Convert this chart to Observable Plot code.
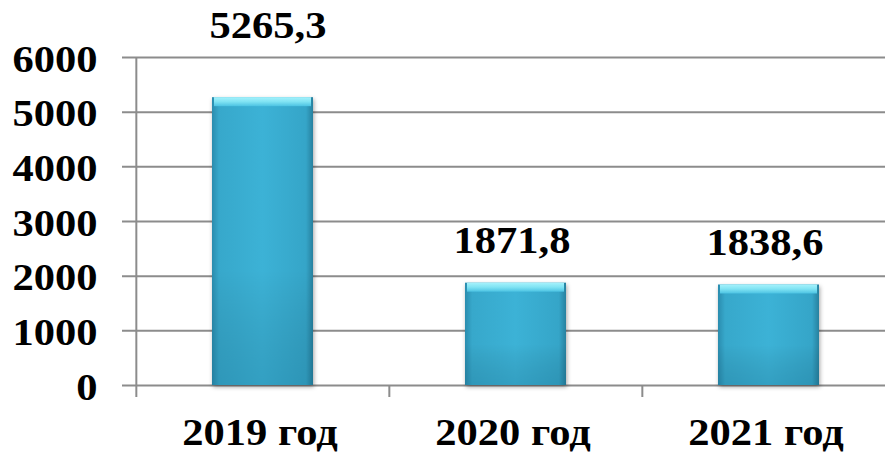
<!DOCTYPE html>
<html><head><meta charset="utf-8">
<script src="https://cdn.jsdelivr.net/npm/d3@7"></script>
<script src="https://cdn.jsdelivr.net/npm/@observablehq/plot@0.6"></script>
<style>body{margin:0;background:#fff} svg{display:block} svg text{font-family:'Liberation Serif','Times New Roman',serif !important;font-weight:bold}</style>
</head><body><div id="chart"></div>
<script>
const years = ["2019 год", "2020 год", "2021 год"];
const values = [5265.3, 1871.8, 1838.6];
const valueLabels = ["5265,3", "1871,8", "1838,6"];
const yTicks = [0, 1000, 2000, 3000, 4000, 5000, 6000];

const data = years.map((year, i) => ({year, value: values[i], label: valueLabels[i]}));
const FONT = "Liberation Serif, Times New Roman, serif";
const grid = "#8c8c8c";
const xRange = [135, 895];
const bw = (xRange[1] - xRange[0]) / years.length;
const inset = bw * 0.3;

const chart = Plot.plot({
  width: 885, height: 454,
  marginTop: 57, marginBottom: 69, marginLeft: 135, marginRight: 0,
  style: {fontFamily: FONT, fontWeight: "bold", background: "#fff", color: "#000", overflow: "hidden"},
  x: {domain: years, range: xRange, padding: 0, axis: null, label: null},
  y: {domain: [0, 6000], range: [385, 57], axis: null, label: null},
  marks: [
    Plot.ruleY(yTicks, {stroke: grid, strokeWidth: 2, insetLeft: -13}),
    Plot.ruleX([years[0]], {y1: 0, y2: 6000, dx: -bw / 2, stroke: grid, strokeWidth: 2}),
    Plot.ruleX(years, {y1: 0, y2: 0, insetBottom: -12, dx: -bw / 2, stroke: grid, strokeWidth: 2}),
    Plot.barY(data, {x: "year", y: "value", fill: "url(#gh)", insetLeft: inset, insetRight: inset}),
    Plot.barY(data, {x: "year", y: "value", fill: "url(#gv)", insetLeft: inset, insetRight: inset}),
    Plot.barY(data, {x: "year", y1: "value", y2: "value", insetBottom: -9, fill: "url(#gt)", insetLeft: inset + 2, insetRight: inset + 2}),
    Plot.text(data.slice(0, 1), {x: "year", y: "value", text: "label", dy: -72, dx: 5, fontSize: 38, fill: "#000"}),
    Plot.text(data.slice(1), {x: "year", y: "value", text: "label", dy: -42, dx: -4, fontSize: 38, fill: "#000"}),
    Plot.axisY(yTicks, {tickSize: 0, tickPadding: 38, fontSize: 38, fill: "#000", dy: 2, label: null, tickFormat: d => String(d)}),
    Plot.axisX({tickSize: 0, tickPadding: 33, fontSize: 38, fill: "#000", label: null, dx: -3})
  ]
});

const svg = d3.select(chart);
const defs = svg.insert("defs", ":first-child");
const gh = defs.append("linearGradient").attr("id", "gh").attr("x1", 0).attr("x2", 1).attr("y1", 0).attr("y2", 0);
[[0, "#2a8cae"], [0.07, "#37a8cb"], [0.5, "#3cb2d6"], [0.93, "#35a5c8"], [1, "#27819f"]].forEach(([o, c]) =>
  gh.append("stop").attr("offset", o).attr("stop-color", c));
const gv = defs.append("linearGradient").attr("id", "gv").attr("x1", 0).attr("x2", 0).attr("y1", 0).attr("y2", 1);
[[0, "#ffffff", 0.0], [0.6, "#000000", 0.0], [1, "#003a55", 0.15]].forEach(([o, c, a]) =>
  gv.append("stop").attr("offset", o).attr("stop-color", c).attr("stop-opacity", a));
const gt = defs.append("linearGradient").attr("id", "gt").attr("x1", 0).attr("x2", 0).attr("y1", 0).attr("y2", 1);
[[0, "#a6f2fc"], [0.5, "#80e3f3"], [1, "#4cc3e3"]].forEach(([o, c]) =>
  gt.append("stop").attr("offset", o).attr("stop-color", c));

svg.selectAll("g[aria-label=bar]").filter((d, i) => i === 0)
  .style("filter", "drop-shadow(1px 2px 2px rgba(0,0,0,0.35))");

const S = 1.12;
svg.selectAll("text").each(function () {
  this.style.fontFamily = "'Liberation Serif', 'Times New Roman', serif";
  this.style.fontWeight = "bold";
  const t = this.getAttribute("transform") || "";
  const x = +this.getAttribute("x") || 0;
  this.setAttribute("transform", `${t} translate(${x},0) scale(${S},1) translate(${-x},0)`);
});

document.getElementById("chart").appendChild(chart);
</script>
</body></html>
